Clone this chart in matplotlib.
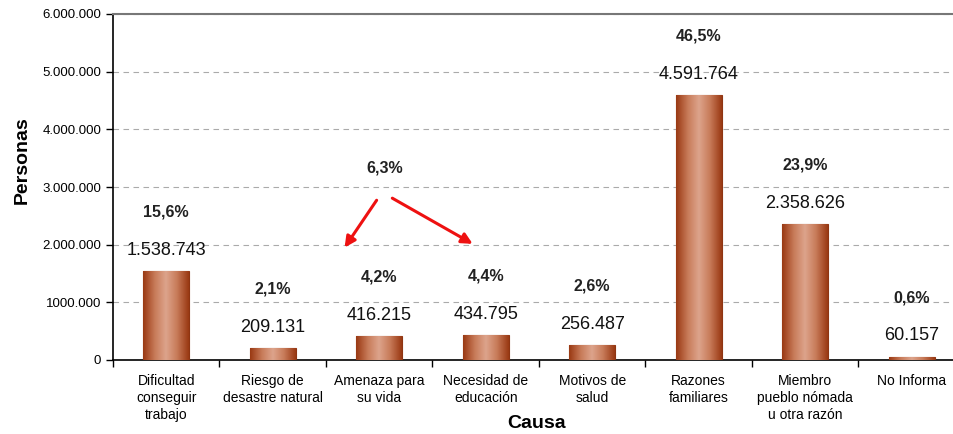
import numpy as np
import matplotlib.pyplot as plt
from matplotlib.colors import LinearSegmentedColormap

plt.rcParams['font.family'] = ['Liberation Sans', 'DejaVu Sans']

causas = ['Dificultad\nconseguir\ntrabajo', 'Riesgo de\ndesastre natural',
          'Amenaza para\nsu vida', 'Necesidad de\neducación', 'Motivos de\nsalud',
          'Razones\nfamiliares', 'Miembro\npueblo nómada\nu otra razón', 'No Informa']
personas = [1538743, 209131, 416215, 434795, 256487, 4591764, 2358626, 60157]
valor_txt = ['1.538.743', '209.131', '416.215', '434.795', '256.487',
             '4.591.764', '2.358.626', '60.157']
pct_txt = ['15,6%', '2,1%', '4,2%', '4,4%', '2,6%', '46,5%', '23,9%', '0,6%']
yticks = [0, 1000000, 2000000, 3000000, 4000000, 5000000, 6000000]
ytick_txt = ['0', '1000.000', '2.000.000', '3.000.000', '4.000.000', '5.000.000', '6.000.000']

fig = plt.figure(figsize=(9.54, 4.34), dpi=100)
ax = fig.add_axes([113/954, 1-360/434, 852/954, 346/434])

x = np.arange(len(causas))
w = 0.43
bars = ax.bar(x, personas, width=w, color='#B5603C', edgecolor='#8E3512', linewidth=0.8, zorder=3)

# cylinder-like shading
cmap = LinearSegmentedColormap.from_list('cyl', ['#9A3A14', '#C77A58', '#DDA48C', '#C77A58', '#9A3A14'])
grad = np.linspace(0, 1, 64).reshape(1, -1)
for b in bars:
    im = ax.imshow(grad, cmap=cmap, aspect='auto', zorder=3.5,
                   extent=[b.get_x(), b.get_x()+b.get_width(), 0, b.get_height()])
    im.set_clip_path(b)

for i in range(len(causas)):
    ax.text(x[i], personas[i] + 360000, valor_txt[i], ha='center', va='center', fontsize=13, color='#111111')
    ax.text(x[i], personas[i] + 1020000, pct_txt[i], ha='center', va='center', fontsize=11.5,
            fontweight='bold', color='#222222')

# 6,3% = amenaza + educación
ax.text(2.05, 3330000, '6,3%', ha='center', va='center', fontsize=11.5, fontweight='bold', color='#222222')
ax.annotate('', xy=(1.66, 1910000), xytext=(1.99, 2810000),
            arrowprops=dict(arrowstyle='-|>', color='#EE1111', lw=2.2, mutation_scale=16))
ax.annotate('', xy=(2.90, 1990000), xytext=(2.10, 2830000),
            arrowprops=dict(arrowstyle='-|>', color='#EE1111', lw=2.2, mutation_scale=16))

ax.set_xlim(-0.5, 7.5)
ax.set_ylim(0, 6000000)
ax.set_yticks(yticks)
ax.set_yticklabels(ytick_txt, fontsize=9.5)
ax.set_xticks(x)
ax.set_xticklabels(causas, fontsize=10, linespacing=1.3)
ax.tick_params(axis='x', length=0, pad=10)
ax.set_xticks(np.arange(-0.5, 8.0, 1), minor=True)
ax.tick_params(axis='x', which='minor', length=5, direction='out', width=1)
ax.tick_params(axis='y', length=5, direction='out', width=1)

ax.grid(axis='y', linestyle=(0, (5, 4)), color='#AAAAAA', linewidth=0.8, zorder=0)
ax.spines['right'].set_visible(False)
ax.spines['top'].set_color('#777777')
ax.spines['top'].set_linewidth(1.5)
ax.spines['left'].set_linewidth(1.2)
ax.spines['bottom'].set_linewidth(1.2)

fig.text(22/954, 1-160/434, 'Personas', rotation=90, ha='center', va='center', fontsize=14, fontweight='bold')
fig.text(537/954, 1-423/434, 'Causa', ha='center', va='center', fontsize=14, fontweight='bold')

fig.savefig('out.png', dpi=100)
